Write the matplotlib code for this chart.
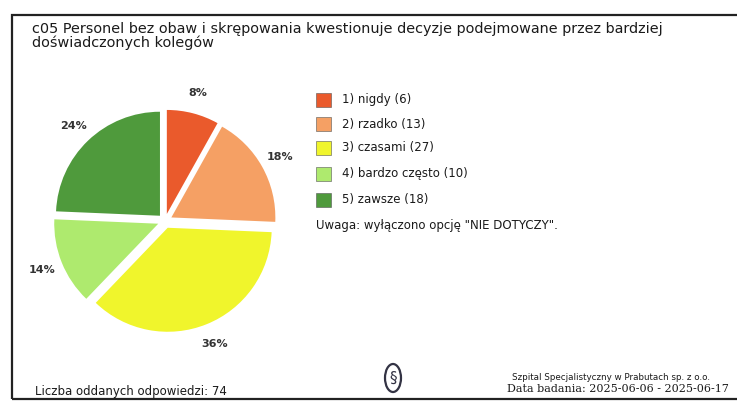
import matplotlib.pyplot as plt
from matplotlib.patches import Rectangle, Ellipse

# survey answers
categories = ["1) nigdy", "2) rzadko", "3) czasami", "4) bardzo często", "5) zawsze"]
counts = [6, 13, 27, 10, 18]
colors = ["#ea5a2c", "#f5a064", "#f0f52c", "#aeea6e", "#4f9a3c"]

title = ("c05 Personel bez obaw i skrępowania kwestionuje decyzje podejmowane przez bardziej\n"
         "doświadczonych kolegów")
note = 'Uwaga: wyłączono opcję "NIE DOTYCZY".'
total_label = "Liczba oddanych odpowiedzi: 74"
hospital = "Szpital Specjalistyczny w Prabutach sp. z o.o."
survey_dates = "Data badania: 2025-06-06 - 2025-06-17"

W, H = 737, 405
fig = plt.figure(figsize=(W / 100, H / 100), dpi=100)
fig.patch.set_facecolor("white")


def fx(px):
    return px / W


def fy(py):
    return 1 - py / H


# outer frame (right side runs off the page)
fig.add_artist(Rectangle((fx(12), fy(399)), fx(740) - fx(12), fy(15) - fy(399),
                         transform=fig.transFigure, fill=False, lw=1.6, ec="#222222"))

fig.text(fx(32), fy(22), title, ha="left", va="top", fontsize=10.4,
         color="#1a1a1a", linespacing=0.95)

# pie
cx, cy, r = 165, 221, 104
ax = fig.add_axes([fx(cx - 1.5 * r), fy(cy + 1.5 * r), 3 * r / W, 3 * r / H])
ax.axis("off")

ax.pie(counts, colors=colors, startangle=90, counterclock=False,
       explode=[0.07] * len(counts), radius=1,
       autopct=lambda p: f"{p:.0f}%", pctdistance=1.2,
       textprops=dict(fontsize=8, color="#333333", fontweight="semibold"),
       wedgeprops=dict(linewidth=0))
ax.set_xlim(-1.5, 1.5)
ax.set_ylim(-1.5, 1.5)
ax.set_aspect("equal")

# legend
rows_y = [100, 124, 148, 174, 200]
for lab, n, col, y in zip(categories, counts, colors, rows_y):
    fig.add_artist(Rectangle((fx(316), fy(y + 7)), 15 / W, 14 / H,
                             transform=fig.transFigure, fc=col, ec="#555555", lw=0.4))
    fig.text(fx(342), fy(y), f"{lab} ({n})", ha="left", va="center",
             fontsize=8.5, color="#1a1a1a")
fig.text(fx(316), fy(226), note, ha="left", va="center", fontsize=8.5, color="#1a1a1a")

# footer
fig.text(fx(35), fy(392), total_label, ha="left", va="center", fontsize=8.5, color="#1a1a1a")
fig.add_artist(Ellipse((fx(393), fy(378)), 16 / W, 28 / H, transform=fig.transFigure,
                       fill=False, ec="#333344", lw=1.6))
fig.text(fx(393), fy(378), "§", ha="center", va="center", fontsize=11, color="#333344")
fig.text(fx(512), fy(378), hospital, ha="left", va="center", fontsize=6.3, color="#1a1a1a")
fig.text(fx(507), fy(389), survey_dates, ha="left", va="center", fontsize=8,
         family="DejaVu Serif", color="#1a1a1a")

fig.savefig("out.png", dpi=100)
